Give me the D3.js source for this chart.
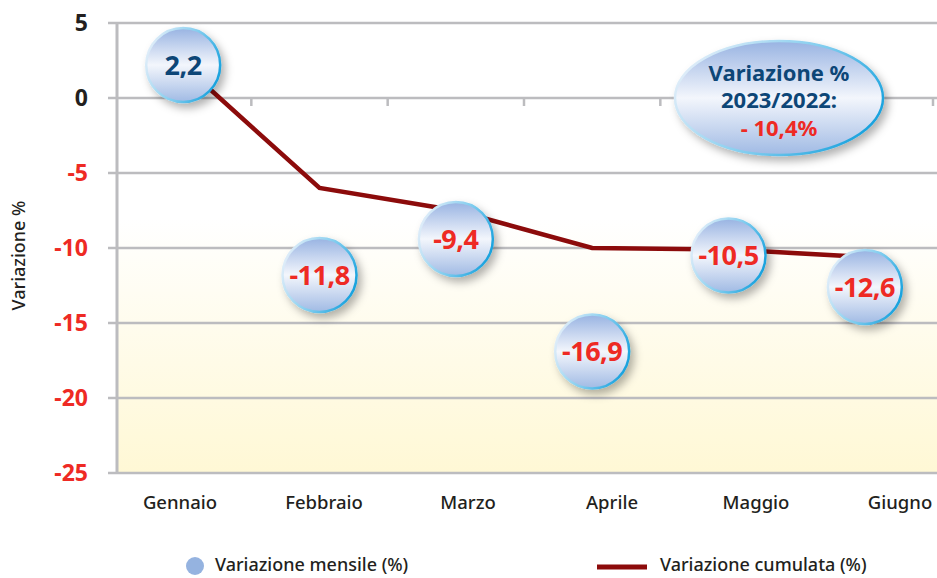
<!DOCTYPE html>
<html>
<head>
<meta charset="utf-8">
<script src="https://cdn.jsdelivr.net/npm/d3@7"></script>
<style>
  body { margin: 0; background: #fff; }
  text { font-family: "Noto Sans", "Open Sans", sans-serif; }
</style>
</head>
<body>
<div id="chart"></div>
<script>
// data
const months = ["Gennaio", "Febbraio", "Marzo", "Aprile", "Maggio", "Giugno"];
const monthly = [2.2, -11.8, -9.4, -16.9, -10.5, -12.6];
const cumulative = [2.2, -6.0, -7.5, -10.0, -10.1, -10.6];
const yTicks = [5, 0, -5, -10, -15, -20, -25];
const totalLabel = ["Variazione %", "2023/2022:", "- 10,4%"];

const W = 937, H = 578;
const red = "#ee2a24", navy = "#0d4677", dark = "#231f20";

const svg = d3.select("#chart").append("svg")
  .attr("width", W).attr("height", H);

const defs = svg.append("defs");

// bubble fill: blue - white - blue
const bg = defs.append("linearGradient").attr("id", "bubbleFill")
  .attr("x1", 0).attr("y1", 0).attr("x2", 0).attr("y2", 1);
bg.append("stop").attr("offset", "0%").attr("stop-color", "#98b3e2");
bg.append("stop").attr("offset", "50%").attr("stop-color", "#f3f6fc");
bg.append("stop").attr("offset", "100%").attr("stop-color", "#a0bae4");

const bs = defs.append("linearGradient").attr("id", "bubbleStroke")
  .attr("x1", 0).attr("y1", 0.3).attr("x2", 1).attr("y2", 0.7);
bs.append("stop").attr("offset", "0%").attr("stop-color", "#e3eef9");
bs.append("stop").attr("offset", "55%").attr("stop-color", "#7ccbee");
bs.append("stop").attr("offset", "100%").attr("stop-color", "#129fdc");

const yel = defs.append("linearGradient").attr("id", "yellowBg")
  .attr("x1", 0).attr("y1", 0).attr("x2", 0).attr("y2", 1);
yel.append("stop").attr("offset", "0%").attr("stop-color", "#ffffff");
yel.append("stop").attr("offset", "100%").attr("stop-color", "#fff8d5");

const shadow = defs.append("filter").attr("id", "shadow")
  .attr("x", "-40%").attr("y", "-40%").attr("width", "190%").attr("height", "190%");
shadow.append("feDropShadow").attr("dx", 4).attr("dy", 5)
  .attr("stdDeviation", 4).attr("flood-color", "#000").attr("flood-opacity", 0.3);

// scales
const x = d3.scaleBand().domain(months).range([115, 933]).padding(0);
const xc = d => x(d) + x.bandwidth() / 2;
const xLabel = d3.scalePoint().domain(months).range([180, 900]);
const y = d3.scaleLinear().domain([-25, 5]).range([473, 23]);
const fmt = d => d3.format(".1f")(d).replace(".", ",").replace("\u2212", "-");

// yellow background
svg.append("rect")
  .attr("x", 117).attr("y", y(-8))
  .attr("width", W - 117).attr("height", y(-25) - y(-8))
  .attr("fill", "url(#yellowBg)");

// gridlines
svg.append("g").selectAll("line").data(yTicks).enter().append("line")
  .attr("x1", 108).attr("x2", W)
  .attr("y1", d => y(d)).attr("y2", d => y(d))
  .attr("stroke", "#bcbcbf").attr("stroke-width", 2.5);

// y axis line
svg.append("line")
  .attr("x1", 117).attr("x2", 117).attr("y1", y(5)).attr("y2", y(-25))
  .attr("stroke", "#bcbcbf").attr("stroke-width", 3);

// category ticks on zero line
svg.append("g").selectAll("line").data(months).enter().append("line")
  .attr("x1", d => x(d) + x.bandwidth()).attr("x2", d => x(d) + x.bandwidth())
  .attr("y1", y(0)).attr("y2", y(0) + 8)
  .attr("stroke", "#bcbcbf").attr("stroke-width", 2.5);

// y tick labels
svg.append("g").selectAll("text").data(yTicks).enter().append("text")
  .attr("x", 88).attr("y", d => y(d)).attr("dy", "0.36em")
  .attr("text-anchor", "end")
  .attr("font-size", 23).attr("font-weight", 700)
  .attr("fill", d => d < 0 ? red : dark)
  .text(d => d);

// y title
svg.append("text")
  .attr("transform", "translate(25," + y(-10.5) + ") rotate(-90)")
  .attr("text-anchor", "middle")
  .attr("font-size", 18).attr("font-weight", 500)
  .attr("fill", dark)
  .text("Variazione %");

// x labels
svg.append("g").selectAll("text").data(months).enter().append("text")
  .attr("x", d => xLabel(d)).attr("y", 509)
  .attr("text-anchor", "middle")
  .attr("font-size", 18.5).attr("font-weight", 500)
  .attr("fill", dark)
  .text(d => d);

// cumulative line
const line = d3.line()
  .x((d, i) => xc(months[i]))
  .y(d => y(d));

svg.append("path")
  .datum(cumulative)
  .attr("d", line)
  .attr("fill", "none")
  .attr("stroke", "#8c0b0b")
  .attr("stroke-width", 4.5)
  .attr("stroke-linejoin", "miter");

// monthly bubbles
const bubbles = svg.append("g").selectAll("g").data(monthly).enter().append("g")
  .attr("transform", (d, i) => "translate(" + xc(months[i]) + "," + y(d) + ")");

bubbles.append("circle")
  .attr("r", 37)
  .attr("fill", "url(#bubbleFill)")
  .attr("stroke", "url(#bubbleStroke)")
  .attr("stroke-width", 2.5)
  .attr("filter", "url(#shadow)");

bubbles.append("text")
  .attr("text-anchor", "middle").attr("dy", "0.36em")
  .attr("font-size", 27).attr("font-weight", 700)
  .attr("letter-spacing", -0.5)
  .attr("fill", d => d < 0 ? red : navy)
  .text(fmt);

// summary ellipse
const summary = svg.append("g").attr("transform", "translate(779,98)");
summary.append("ellipse")
  .attr("rx", 104).attr("ry", 57)
  .attr("fill", "url(#bubbleFill)")
  .attr("stroke", "url(#bubbleStroke)")
  .attr("stroke-width", 2.5)
  .attr("filter", "url(#shadow)");
summary.append("text")
  .attr("text-anchor", "middle")
  .attr("font-size", 22).attr("font-weight", 700)
  .selectAll("tspan").data(totalLabel).enter().append("tspan")
  .attr("x", 0)
  .attr("y", (d, i) => -25 + i * 27.5)
  .attr("dy", "0.36em")
  .attr("fill", (d, i) => i === 2 ? red : navy)
  .text(d => d);

// legend
const lg = svg.append("g");
lg.append("circle").attr("cx", 195).attr("cy", 566).attr("r", 9).attr("fill", "#95b3e0");
lg.append("text").attr("x", 215).attr("y", 565).attr("dy", "0.36em")
  .attr("font-size", 18).attr("font-weight", 500).attr("fill", dark)
  .text("Variazione mensile (%)");
lg.append("line").attr("x1", 597).attr("x2", 647).attr("y1", 567).attr("y2", 567)
  .attr("stroke", "#8c0b0b").attr("stroke-width", 5);
lg.append("text").attr("x", 660).attr("y", 565).attr("dy", "0.36em")
  .attr("font-size", 18).attr("font-weight", 500).attr("fill", dark)
  .text("Variazione cumulata (%)");
</script>
</body>
</html>
